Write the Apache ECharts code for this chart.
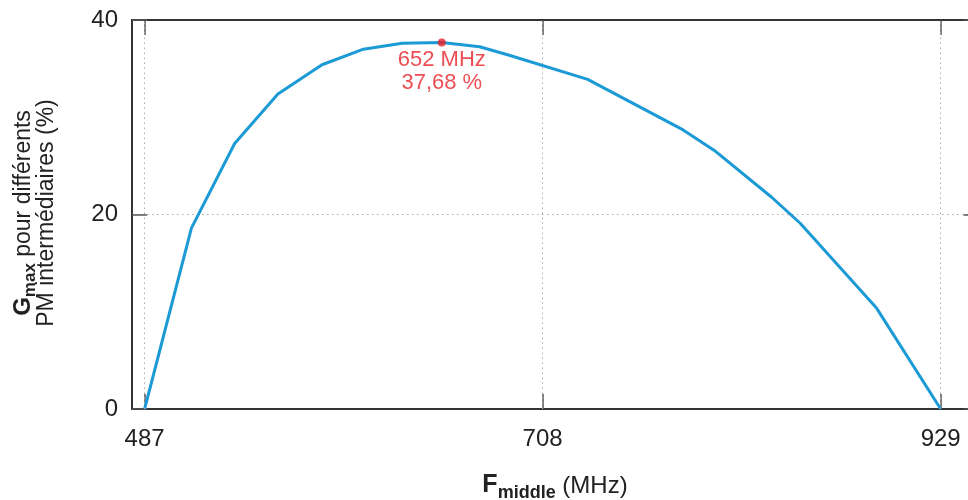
<!DOCTYPE html>
<html><head><meta charset="utf-8">
<script src="https://cdn.jsdelivr.net/npm/echarts@6/dist/echarts.min.js"></script>
<style>html,body{margin:0;padding:0;background:#fff}#c{width:968px;height:500px}</style>
</head><body><div id="c"></div>
<script>
// ---- data ----
const freqMHz = [487, 513, 537, 561, 585.5, 608.5, 630, 652, 673, 689, 733, 786, 804, 835, 851, 893.5, 929];
const gainPct = [0, 18.6, 27.3, 32.4, 35.4, 37.0, 37.6, 37.68, 37.25, 36.4, 33.9, 28.7, 26.5, 21.8, 19.1, 10.35, 0];
const xTickValues = [487, 708, 929];
const yTickValues = [0, 20, 40];
const peakPoint = [652, 37.68];
const xRange = [480, 950];
const yRange = [0, 40];

const FONT = '"Liberation Sans", Arial, Helvetica, sans-serif';
const TXT = '#222';
const BLUE = '#1b9ad6';
const RED = '#e81f27';

const chart = echarts.init(document.getElementById('c'), null, {renderer: 'canvas'});

const mctx = document.createElement('canvas').getContext('2d');
function measure(text, size, weight) {
  mctx.font = `${weight} ${size}px ${FONT}`;
  return mctx.measureText(text).width;
}
function row(pieces, baseY) {
  const widths = pieces.map(p => measure(p.text, p.size, p.weight || 'normal'));
  const total = widths.reduce((a, b) => a + b, 0);
  let x = -total / 2;
  return pieces.map((p, i) => {
    const el = {
      type: 'text', x: x, y: baseY + (p.dy || 0),
      style: {text: p.text, fontSize: p.size, fontWeight: p.weight || 'normal', fontFamily: FONT,
              fill: TXT, align: 'left', verticalAlign: 'bottom'}
    };
    x += widths[i];
    return el;
  });
}

const yNameChildren = [].concat(
  row([{text: 'G', size: 24, weight: 'bold'}, {text: 'max', size: 17, weight: 'bold', dy: 4},
       {text: ' pour différents', size: 23}], 0),
  row([{text: 'PM intermédiaires (%)', size: 23}], 23)
);
const xNameChildren = row([{text: 'F', size: 25, weight: 'bold'}, {text: 'middle', size: 18, weight: 'bold', dy: 4},
                           {text: ' (MHz)', size: 24}], 0);

const fmtNum = v => String(v).replace('.', ',');

const tickStyle = {color: '#555', width: 1.5};
const axisLineStyle = {color: '#333', width: 2};
const gridLineStyle = {color: '#aaa', width: 1, type: [1.5, 3.5]};

const option = {
  animation: false,
  backgroundColor: '#fff',
  grid: {left: 132, top: 20, right: -10.5, bottom: 91, containLabel: false, outerBoundsMode: 'none'},
  xAxis: [{
    type: 'value', min: xRange[0], max: xRange[1], position: 'bottom',
    axisLine: {show: true, onZero: false, lineStyle: axisLineStyle},
    axisTick: {show: true, inside: true, length: 15, customValues: xTickValues, lineStyle: tickStyle},
    axisLabel: {show: true, customValues: xTickValues, fontSize: 24, color: TXT, fontFamily: FONT, margin: 18},
    splitLine: {show: false}
  }, {
    type: 'value', min: xRange[0], max: xRange[1], position: 'top',
    axisLine: {show: true, onZero: false, lineStyle: axisLineStyle},
    axisTick: {show: true, inside: true, length: 15, customValues: xTickValues, lineStyle: tickStyle},
    axisLabel: {show: false},
    splitLine: {show: false}
  }],
  yAxis: [{
    type: 'value', min: yRange[0], max: yRange[1], interval: 20, position: 'left',
    axisLine: {show: true, onZero: false, lineStyle: axisLineStyle},
    axisTick: {show: true, inside: true, length: 15, customValues: yTickValues, lineStyle: tickStyle},
    axisLabel: {show: true, customValues: yTickValues, fontSize: 24, color: TXT, fontFamily: FONT, margin: 14},
    splitLine: {show: true, lineStyle: gridLineStyle}
  }, {
    type: 'value', min: yRange[0], max: yRange[1], interval: 20, position: 'right',
    axisLine: {show: true, onZero: false, lineStyle: axisLineStyle},
    axisTick: {show: true, inside: true, length: 15, customValues: yTickValues, lineStyle: tickStyle},
    axisLabel: {show: false},
    splitLine: {show: false}
  }],
  series: [{
    type: 'line',
    data: freqMHz.map((f, i) => [f, gainPct[i]]),
    symbol: 'none',
    lineStyle: {color: BLUE, width: 3},
    z: 3,
    markLine: {
      silent: true, symbol: 'none', label: {show: false}, animation: false,
      lineStyle: gridLineStyle,
      data: xTickValues.map(v => ({xAxis: v}))
    }
  }, {
    type: 'scatter',
    data: [peakPoint],
    symbolSize: 8,
    itemStyle: {color: RED},
    z: 5,
    label: {
      show: true, position: 'bottom', distance: 2,
      formatter: p => `${p.value[0]} MHz\n${fmtNum(p.value[1])} %`,
      color: RED, fontSize: 22, lineHeight: 23, fontFamily: FONT, align: 'center'
    }
  }],
  graphic: [{
    type: 'group', x: 35, y: 213, rotation: Math.PI / 2, children: yNameChildren
  }, {
    type: 'group', x: 555, y: 498, children: xNameChildren
  }]
};
chart.setOption(option);
</script>
</body></html>
